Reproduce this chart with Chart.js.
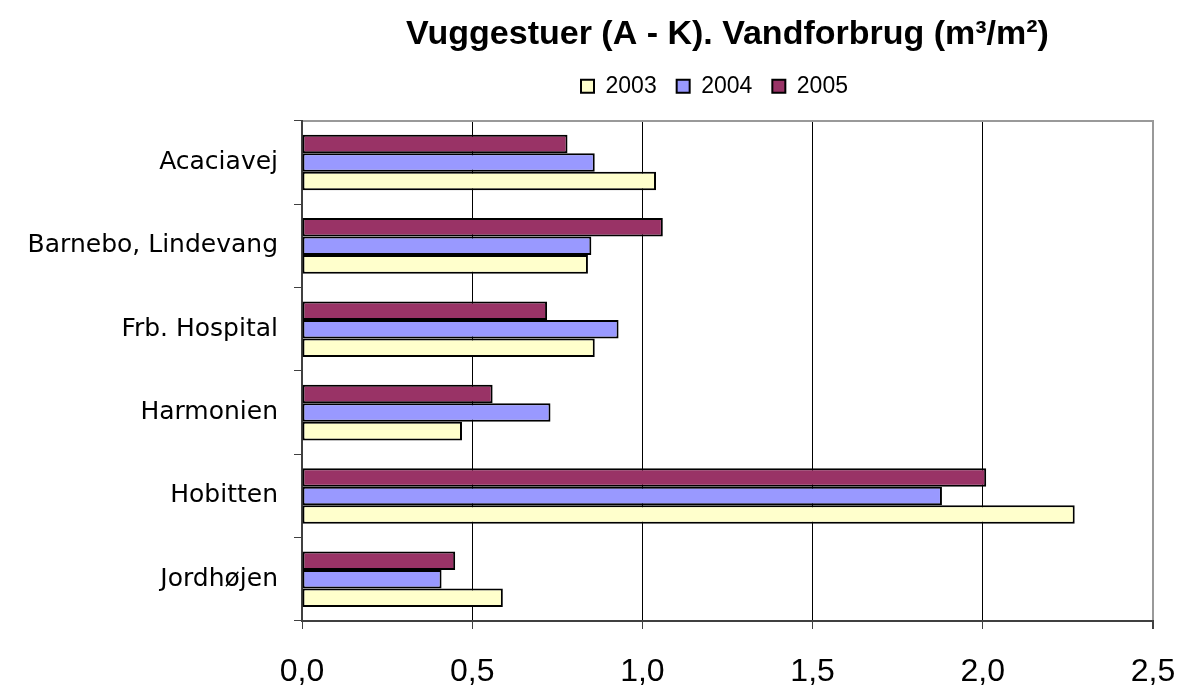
<!DOCTYPE html>
<html>
<head>
<meta charset="utf-8">
<script src="https://cdn.jsdelivr.net/npm/chart.js@4"></script>
<style>
  html, body { margin: 0; padding: 0; background: #fff; }
  #wrap { width: 1181px; height: 689px; }
</style>
</head>
<body>
<div id="wrap"><canvas id="vandChart" width="1181" height="689"></canvas></div>
<script>
const categories = ['Acaciavej', 'Barnebo, Lindevang', 'Frb. Hospital', 'Harmonien', 'Hobitten', 'Jordhøjen'];
const values2003 = [1.04, 0.84, 0.86, 0.47, 2.27, 0.59];
const values2004 = [0.86, 0.85, 0.93, 0.73, 1.88, 0.41];
const values2005 = [0.78, 1.06, 0.72, 0.56, 2.01, 0.45];
const xTicks = [0, 0.5, 1, 1.5, 2, 2.5];

function makeSet(label, data, color) {
    return {
        label: label,
        data: data,
        backgroundColor: color,
        borderColor: '#000',
        borderWidth: 2,
        borderSkipped: false,
        categoryPercentage: 0.667,
        barPercentage: 1.0
    };
}

// the legend in the original sits a little left of the plot centre
const legendShift = {
    id: 'legendShift',
    afterLayout(chart) {
        chart.legend.left -= 13;
        chart.legend.right -= 13;
    }
};

const ctx = document.getElementById('vandChart').getContext('2d');
new Chart(ctx, {
    type: 'bar',
    data: {
        labels: categories,
        // first dataset sits at the top of each group
        datasets: [
            makeSet('2005', values2005, '#993366'),
            makeSet('2004', values2004, '#9999FF'),
            makeSet('2003', values2003, '#FFFFCC')
        ]
    },
    plugins: [legendShift],
    options: {
        indexAxis: 'y',
        responsive: false,
        animation: false,
        layout: { padding: { left: 0, right: 28, top: 0, bottom: 0 } },
        plugins: {
            tooltip: { enabled: false },
            title: {
                display: true,
                fullSize: false,
                text: 'Vuggestuer (A - K). Vandforbrug (m³/m²)',
                color: '#000',
                font: { family: 'Liberation Sans, Arial, sans-serif', size: 34, weight: 'bold' },
                padding: { top: 14, bottom: 0 }
            },
            legend: {
                display: true,
                fullSize: false,
                labels: {
                    color: '#000',
                    font: { family: 'Liberation Sans, Arial, sans-serif', size: 23 },
                    boxWidth: 13,
                    boxHeight: 13,
                    padding: 20,
                    sort: (a, b) => b.datasetIndex - a.datasetIndex
                }
            }
        },
        scales: {
            x: {
                type: 'linear',
                position: 'bottom',
                min: 0,
                max: 2.5,
                afterBuildTicks: scale => {
                    scale.ticks = xTicks.map(v => ({ value: v }));
                },
                ticks: {
                    color: '#000',
                    font: { family: 'Liberation Sans, Arial, sans-serif', size: 32 },
                    padding: 24,
                    maxRotation: 0,
                    callback: v => v.toFixed(1).replace('.', ',')
                },
                grid: {
                    color: ctx => (ctx.tick && ctx.tick.value === 2.5) ? '#999' : '#000',
                    lineWidth: ctx => (ctx.tick && ctx.tick.value === 2.5) ? 2 : 1,
                    tickLength: 8,
                    tickColor: '#404040'
                },
                border: { display: true, color: '#404040', width: 2 },
                afterFit: scale => {
                    scale.height = 68;
                    scale.paddingLeft = 0;
                    scale.paddingRight = 0;
                }
            },
            // spacer on top: gives the grey top edge of the plot area
            xTop: {
                type: 'linear',
                position: 'top',
                min: 0,
                max: 2.5,
                ticks: { display: false },
                grid: { display: false },
                border: { display: true, color: '#999', width: 2 },
                afterFit: scale => {
                    scale.height = 13;
                    scale.paddingLeft = 0;
                    scale.paddingRight = 0;
                }
            },
            y: {
                type: 'category',
                position: 'left',
                offset: true,
                ticks: {
                    color: '#000',
                    font: { family: 'DejaVu Sans, Verdana, sans-serif', size: 25 },
                    padding: 16
                },
                grid: {
                    offset: true,
                    drawOnChartArea: false,
                    drawTicks: true,
                    tickLength: 8,
                    color: '#404040'
                },
                border: { display: true, color: '#404040', width: 2 },
                afterFit: scale => { scale.width = 302; }
            }
        }
    }
});
</script>
</body>
</html>
